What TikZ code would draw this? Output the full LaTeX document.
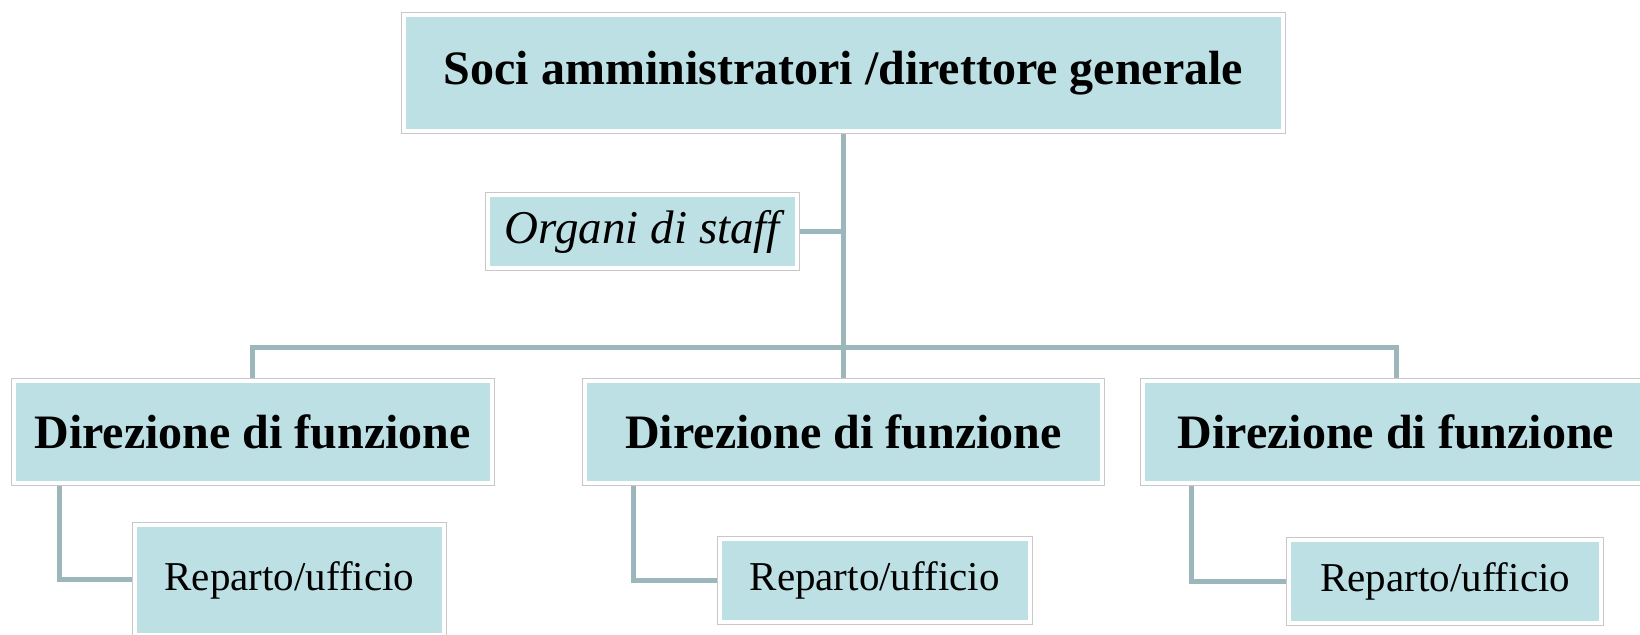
\documentclass[tikz,border=0pt]{standalone}
\usepackage{fontspec}
\setmainfont{Liberation Serif}
\usetikzlibrary{backgrounds}

\definecolor{boxfill}{RGB}{188,224,227}
\definecolor{boxedge}{RGB}{200,200,200}
\definecolor{linkcol}{RGB}{156,183,188}

\begin{document}
\begin{tikzpicture}[x=0.5pt,y=-0.5pt,link/.style={draw=linkcol,line width=2.5pt}]
	\useasboundingbox (0,0) rectangle (1640,635);

	\begin{scope}[every node/.style={rectangle,inner sep=0pt,fill=boxfill,draw=white,line width=2pt,preaction={draw=boxedge,line width=3pt}}]
		\node[minimum width=439.3pt,minimum height=58.2pt,font=\bfseries\fontsize{24}{28}\selectfont] (soci) at (843.5,72.9) {Soci amministratori /direttore generale};
		\node[minimum width=154.5pt,minimum height=36.5pt,font=\itshape\fontsize{23.5}{28}\selectfont] (staff) at (642.5,231.5) {Organi di staff};
	\end{scope}

	\begin{scope}[every node/.style={rectangle,inner sep=0pt,fill=boxfill,draw=white,line width=2pt,preaction={draw=boxedge,line width=3pt},minimum height=51.1pt,font=\bfseries\fontsize{24}{28}\selectfont}]
		\node[minimum width=239pt] (dir1) at (252.6,431.9) {Direzione di funzione};
		\node[minimum width=258.8pt] (dir2) at (843.5,431.9) {Direzione di funzione};
		\node[minimum width=253pt] (dir3) at (1396,431.9) {Direzione di funzione};
	\end{scope}

	\begin{scope}[every node/.style={rectangle,inner sep=0pt,fill=boxfill,draw=white,line width=2pt,preaction={draw=boxedge,line width=3pt},minimum height=41.5pt,font=\fontsize{20.5}{24}\selectfont}]
		\node[minimum width=154.6pt,minimum height=55pt] (rep1) at (289.4,580) {Reparto/ufficio};
		\node[minimum width=154.9pt] (rep2) at (874.6,580.5) {Reparto/ufficio};
		\node[minimum width=155.8pt] (rep3) at (1445.2,581.5) {Reparto/ufficio};
	\end{scope}

	\coordinate (hub) at (843.5,348);

	\begin{scope}[on background layer]
		\draw[link] (soci.south) -- (soci.south |- dir2.north);
		\draw[link] (staff.east) -- (staff.east -| soci.south);
		\draw[link] (dir1.north) |- (hub) -| (dir3.north);
		\draw[link] (dir1.south west) ++(48,0) |- (rep1.west);
		\draw[link] (dir2.south west) ++(51,0) |- (rep2.west);
		\draw[link] (dir3.south west) ++(50,0) |- (rep3.west);
	\end{scope}
\end{tikzpicture}
\end{document}
